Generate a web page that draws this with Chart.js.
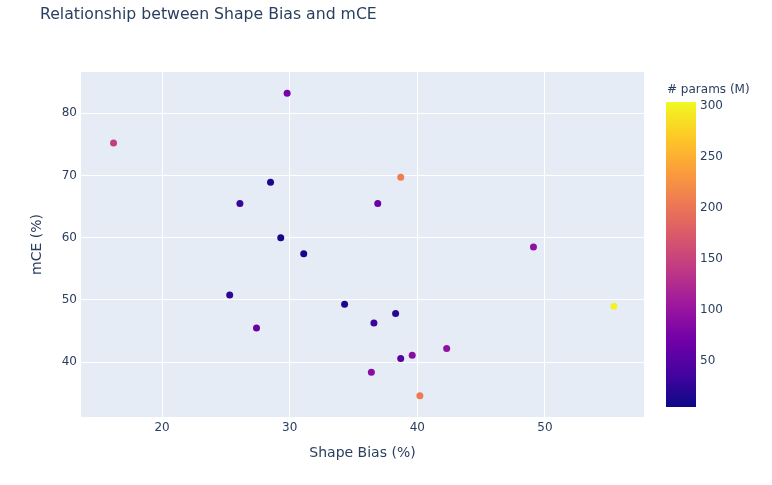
<!DOCTYPE html>
<html>
<head>
<meta charset="utf-8">
<script src="https://cdn.jsdelivr.net/npm/chart.js@4.4.1/dist/chart.umd.min.js"></script>
<style>
  html, body { margin: 0; padding: 0; background: #fff; }
  #wrap { width: 772px; height: 485px; }
</style>
</head>
<body>
<div id="wrap"><canvas id="scatterChart" width="772" height="485"></canvas></div>
<script>
// 데이터
const shapeBias = [16.2, 29.8, 28.5, 26.1, 29.3, 31.1, 25.3, 27.4, 34.3, 38.7,
                   36.9, 49.1, 55.4, 38.3, 36.6, 42.3, 39.6, 38.7, 36.4, 40.2];
const mCE       = [75.2, 83.2, 68.9, 65.5, 60.0, 57.4, 50.8, 45.5, 49.3, 69.7,
                   65.5, 58.5, 49.0, 47.8, 46.3, 42.2, 41.1, 40.6, 38.4, 34.6];
const params    = [145, 75, 15, 32, 10, 8, 25, 65, 15, 208,
                   65, 95, 300, 20, 32, 95, 90, 50, 90, 205];
const xTicks = [20, 30, 40, 50];
const yTicks = [40, 50, 60, 70, 80];
const cbarTicks = [50, 100, 150, 200, 250, 300];
const cMin = 5, cMax = 304;

const plasma = ['#0d0887', '#46039f', '#7201a8', '#9c179e', '#bd3786',
                '#d8576b', '#ed7953', '#fb9f3a', '#fdca26', '#f0f921'];

function hexToRgb(h) {
  return [parseInt(h.slice(1, 3), 16), parseInt(h.slice(3, 5), 16), parseInt(h.slice(5, 7), 16)];
}
function plasmaColor(v) {
  let t = (v - cMin) / (cMax - cMin);
  t = Math.max(0, Math.min(1, t));
  const pos = t * (plasma.length - 1);
  const i = Math.min(Math.floor(pos), plasma.length - 2);
  const f = pos - i;
  const a = hexToRgb(plasma[i]), b = hexToRgb(plasma[i + 1]);
  const c = a.map((x, k) => Math.round(x + (b[k] - x) * f));
  return `rgb(${c[0]}, ${c[1]}, ${c[2]})`;
}

const textColor = '#2a3f5f';
const fontFamily = '"DejaVu Sans", Verdana, sans-serif';

// 배경, 제목, 컬러바 그리기
const decorPlugin = {
  id: 'decor',
  beforeDraw(chart) {
    const { ctx, chartArea: a } = chart;
    ctx.save();
    ctx.fillStyle = '#e5ecf6';
    ctx.fillRect(a.left, a.top, a.right - a.left, a.bottom - a.top);
    ctx.restore();
  },
  afterDraw(chart) {
    const { ctx, chartArea: a } = chart;
    ctx.save();
    ctx.fillStyle = textColor;
    // 제목
    ctx.font = `15.7px ${fontFamily}`;
    ctx.textAlign = 'left';
    ctx.textBaseline = 'middle';
    ctx.fillText('Relationship between Shape Bias and mCE', 40, 15);
    // 축 제목
    ctx.font = `14px ${fontFamily}`;
    ctx.textAlign = 'center';
    ctx.fillText('Shape Bias (%)', (a.left + a.right) / 2, 453);
    ctx.save();
    ctx.translate(37.5, (a.top + a.bottom) / 2);
    ctx.rotate(-Math.PI / 2);
    ctx.fillText('mCE (%)', 0, 0);
    ctx.restore();

    // 컬러바
    const cx = 666, cw = 30, cTop = 102, cBot = 407;
    const grad = ctx.createLinearGradient(0, cBot, 0, cTop);
    plasma.forEach((c, i) => grad.addColorStop(i / (plasma.length - 1), c));
    ctx.fillStyle = grad;
    ctx.fillRect(cx, cTop, cw, cBot - cTop);
    ctx.fillStyle = textColor;
    ctx.font = `12px ${fontFamily}`;
    ctx.textAlign = 'left';
    ctx.textBaseline = 'middle';
    ctx.fillText('# params (M)', 667, 90);
    cbarTicks.forEach(v => {
      const y = cBot - (v - cMin) / (cMax - cMin) * (cBot - cTop);
      ctx.fillText(String(v), 700, y);
    });
    ctx.restore();
  }
};

function initChart() {
  const points = shapeBias.map((x, i) => ({ x: x, y: mCE[i] }));
  const ctx = document.getElementById('scatterChart').getContext('2d');
  new Chart(ctx, {
    type: 'scatter',
    data: {
      datasets: [{
        label: 'models',
        data: points,
        backgroundColor: params.map(plasmaColor),
        borderWidth: 0,
        pointRadius: 3.5,
        pointHoverRadius: 4.5
      }]
    },
    options: {
      responsive: false,
      animation: false,
      layout: { padding: { top: 72, right: 128, left: 0, bottom: 0 } },
      scales: {
        x: {
          type: 'linear',
          min: 13.65,
          max: 57.76,
          afterBuildTicks: s => { s.ticks = xTicks.map(v => ({ value: v })); },
          afterFit: s => { s.height = 68; },
          grid: { color: '#ffffff', lineWidth: 1, drawTicks: false },
          border: { display: false },
          ticks: { color: textColor, font: { family: fontFamily, size: 12 }, padding: 4, maxRotation: 0 }
        },
        y: {
          type: 'linear',
          min: 31.2,
          max: 86.6,
          afterBuildTicks: s => { s.ticks = yTicks.map(v => ({ value: v })); },
          afterFit: s => { s.width = 81; },
          grid: { color: '#ffffff', lineWidth: 1, drawTicks: false },
          border: { display: false },
          ticks: { color: textColor, font: { family: fontFamily, size: 12 }, padding: 4 }
        }
      },
      plugins: {
        legend: { display: false },
        tooltip: { enabled: true }
      }
    },
    plugins: [decorPlugin]
  });
}

document.addEventListener('DOMContentLoaded', initChart);
</script>
</body>
</html>
